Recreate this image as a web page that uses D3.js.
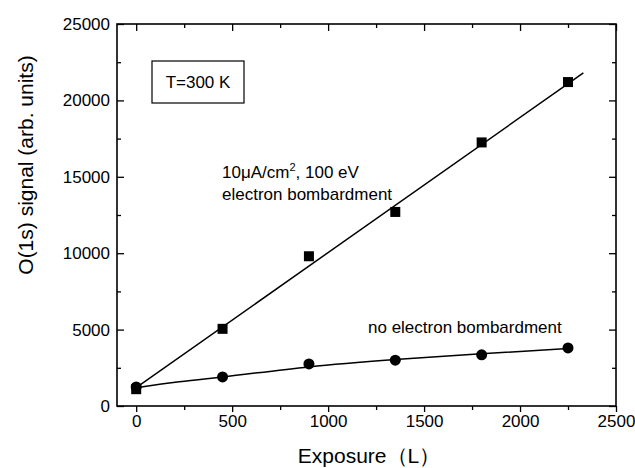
<!DOCTYPE html>
<html>
<head>
<meta charset="utf-8">
<title>O(1s) signal vs exposure</title>
<script src="https://d3js.org/d3.v7.min.js"></script>
<style>
body { margin: 0; background: #fff; }
text { font-family: Arial, "Liberation Sans", sans-serif; fill: #000; }
</style>
</head>
<body>
<svg id="chart" width="635" height="468"></svg>
<script>
// data
const exposure = [0, 450, 900, 1350, 1800, 2250];
const withBeam = [1100, 5050, 9800, 12700, 17250, 21200];
const noBeam = [1250, 1900, 2750, 3000, 3350, 3800];

// fitted lines as drawn in the figure
const beamFitX = [0, 2330];
const beamFitY = [1200, 21800];
const noBeamFitX = [0, 225, 450, 900, 1350, 1800, 2250];
const noBeamFitY = [1200, 1580, 1900, 2560, 3040, 3420, 3760];

const xMajor = [0, 500, 1000, 1500, 2000, 2500];
const xMinor = [250, 750, 1250, 1750, 2250];
const yMajor = [0, 5000, 10000, 15000, 20000, 25000];
const yMinor = [2500, 7500, 12500, 17500, 22500];

const svg = d3.select("#chart");
const L = 117, R = 616, T = 24, B = 406;

const x = d3.scaleLinear().domain([-100, 2500]).range([L, R]);
const y = d3.scaleLinear().domain([0, 25000]).range([B, T]);

function styleAxis(g) {
    g.selectAll("line").attr("stroke", "#000").attr("stroke-width", 1.3);
    g.selectAll("text").style("font-size", "17px");
}

// bottom
svg.append("g").attr("transform", `translate(0,${B})`)
   .call(d3.axisBottom(x).tickValues(xMajor).tickSize(6).tickPadding(3).tickFormat(d3.format("d")))
   .call(styleAxis).call(g => g.select(".domain").remove());
svg.append("g").attr("transform", `translate(0,${B})`)
   .call(d3.axisBottom(x).tickValues(xMinor).tickSize(4).tickFormat(""))
   .call(styleAxis).call(g => g.select(".domain").remove());
// top
svg.append("g").attr("transform", `translate(0,${T})`)
   .call(d3.axisTop(x).tickValues(xMajor).tickSize(-7).tickFormat(""))
   .call(styleAxis).call(g => g.select(".domain").remove());
svg.append("g").attr("transform", `translate(0,${T})`)
   .call(d3.axisTop(x).tickValues(xMinor).tickSize(-4).tickFormat(""))
   .call(styleAxis).call(g => g.select(".domain").remove());
// left
svg.append("g").attr("transform", `translate(${L},0)`)
   .call(d3.axisLeft(y).tickValues(yMajor).tickSize(-7).tickPadding(7).tickFormat(d3.format("d")))
   .call(styleAxis).call(g => g.select(".domain").remove());
svg.append("g").attr("transform", `translate(${L},0)`)
   .call(d3.axisLeft(y).tickValues(yMinor).tickSize(-4).tickFormat(""))
   .call(styleAxis).call(g => g.select(".domain").remove());
// right
svg.append("g").attr("transform", `translate(${R},0)`)
   .call(d3.axisRight(y).tickValues(yMajor).tickSize(-7).tickFormat(""))
   .call(styleAxis).call(g => g.select(".domain").remove());
svg.append("g").attr("transform", `translate(${R},0)`)
   .call(d3.axisRight(y).tickValues(yMinor).tickSize(-4).tickFormat(""))
   .call(styleAxis).call(g => g.select(".domain").remove());

// frame
svg.append("rect").attr("x", L).attr("y", T).attr("width", R - L).attr("height", B - T)
   .attr("fill", "none").attr("stroke", "#000").attr("stroke-width", 1.6);

// fit lines
const line = d3.line().x(d => x(d[0])).y(d => y(d[1]));
svg.append("path").datum(d3.zip(beamFitX, beamFitY))
   .attr("d", line).attr("fill", "none").attr("stroke", "#000").attr("stroke-width", 1.5);
svg.append("path").datum(d3.zip(noBeamFitX, noBeamFitY))
   .attr("d", line.curve(d3.curveMonotoneX)).attr("fill", "none").attr("stroke", "#000").attr("stroke-width", 1.5);

// markers
svg.append("g").selectAll("rect").data(d3.zip(exposure, withBeam)).join("rect")
   .attr("x", d => x(d[0]) - 5).attr("y", d => y(d[1]) - 5)
   .attr("width", 10).attr("height", 10).attr("fill", "#000");
svg.append("g").selectAll("circle").data(d3.zip(exposure, noBeam)).join("circle")
   .attr("cx", d => x(d[0])).attr("cy", d => y(d[1])).attr("r", 5.5).attr("fill", "#000");

// annotations
svg.append("rect").attr("x", 152).attr("y", 61).attr("width", 92).attr("height", 42)
   .attr("fill", "none").attr("stroke", "#000").attr("stroke-width", 1.2);
svg.append("text").attr("x", 198).attr("y", 88).attr("text-anchor", "middle")
   .style("font-size", "17px").text("T=300 K");

const t1 = svg.append("text").attr("x", 222).attr("y", 178).style("font-size", "17px");
t1.append("tspan").text("10\u03bcA/cm");
t1.append("tspan").attr("dy", -7).style("font-size", "11px").text("2");
t1.append("tspan").attr("dy", 7).text(", 100 eV");
svg.append("text").attr("x", 222).attr("y", 200).style("font-size", "17px").text("electron bombardment");
svg.append("text").attr("x", 368).attr("y", 333).style("font-size", "17px").text("no electron bombardment");

// axis titles
svg.append("text").attr("x", 369).attr("y", 463).attr("text-anchor", "middle")
   .style("font-size", "21px").text("Exposure\uff08L\uff09");
svg.append("text").attr("transform", "translate(33,165) rotate(-90)").attr("text-anchor", "middle")
   .style("font-size", "21px").text("O(1s) signal (arb. units)");
</script>
</body>
</html>
